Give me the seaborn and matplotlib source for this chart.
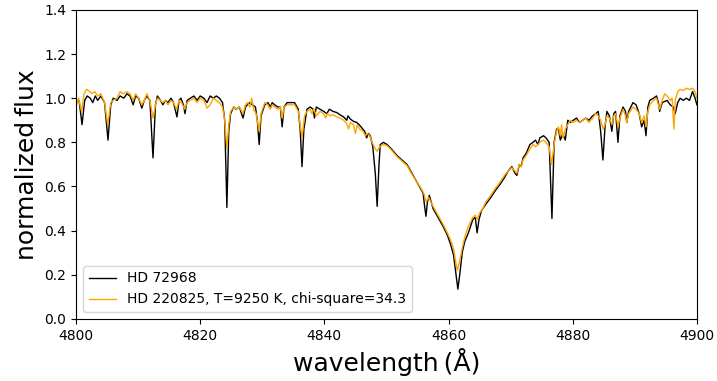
import matplotlib
matplotlib.use("Agg")
import matplotlib.pyplot as plt
import seaborn as sns
import pandas as pd

wl_obs = [4800.0, 4800.5, 4800.97, 4801.4, 4801.8, 4802.3, 4802.7, 4803.1, 4803.5, 4804.0,
          4804.6, 4805.15, 4805.6, 4806.0, 4806.6, 4807.1, 4807.7, 4808.2, 4808.7, 4809.2,
          4809.6, 4810.1, 4810.6, 4811.0, 4811.4, 4811.9, 4812.4, 4812.8, 4813.1, 4813.6,
          4814.0, 4814.4, 4814.8, 4815.3, 4815.7, 4816.26, 4816.6, 4816.9, 4817.3, 4817.55,
          4817.9, 4818.4, 4819.0, 4819.5, 4820.0, 4820.6, 4821.1, 4821.6, 4822.1, 4822.6,
          4823.1, 4823.6, 4823.95, 4824.3, 4824.6, 4824.9, 4825.4, 4825.8, 4826.3, 4826.9,
          4827.3, 4827.6, 4828.0, 4828.4, 4828.9, 4829.2, 4829.5, 4829.8, 4830.4, 4830.9,
          4831.3, 4831.6, 4832.0, 4832.5, 4832.9, 4833.2, 4833.5, 4834.0, 4834.6, 4835.2,
          4835.8, 4836.1, 4836.4, 4836.7, 4837.2, 4837.7, 4838.2, 4838.4, 4838.7, 4839.3,
          4839.9, 4840.4, 4840.8, 4841.4, 4842.0, 4842.5, 4843.1, 4843.6, 4843.8, 4844.2,
          4844.7, 4845.2, 4845.6, 4846.2, 4846.5, 4846.8, 4847.1, 4847.4, 4847.8, 4848.2,
          4848.5, 4848.8, 4849.0, 4849.5, 4850.1, 4850.8, 4851.7, 4852.5, 4853.3, 4854.1,
          4854.9, 4855.5, 4855.9, 4856.1, 4856.36, 4856.6, 4856.9, 4857.5, 4858.3, 4859.1,
          4859.8, 4860.3, 4860.8, 4861.2, 4861.5, 4861.8, 4862.2, 4862.6, 4863.2, 4863.9,
          4864.3, 4864.6, 4864.9, 4865.3, 4866.0, 4866.8, 4867.5, 4868.3, 4869.0, 4869.6,
          4870.2, 4870.7, 4871.0, 4871.4, 4871.7, 4872.0, 4872.5, 4873.1, 4873.6, 4874.0,
          4874.4, 4874.7, 4875.3, 4875.7, 4876.2, 4876.65, 4877.0, 4877.4, 4877.7, 4878.0,
          4878.4, 4878.8, 4879.2, 4879.6, 4880.1, 4880.6, 4881.1, 4881.6, 4882.1, 4882.6,
          4883.2, 4883.7, 4884.1, 4884.5, 4884.86, 4885.2, 4885.5, 4885.9, 4886.3, 4886.6,
          4886.9, 4887.28, 4887.6, 4888.1, 4888.5, 4888.7, 4889.0, 4889.7, 4890.2, 4890.7,
          4891.1, 4891.5, 4891.8, 4892.1, 4892.4, 4893.0, 4893.5, 4893.8, 4894.0, 4894.4,
          4895.2, 4895.7, 4896.2, 4896.5, 4896.9, 4897.3, 4897.8, 4898.3, 4898.8, 4899.3,
          4899.7, 4900.0]
flux_obs = [0.98, 0.99, 0.88, 0.99, 1.01, 1.00, 0.98, 1.01, 0.99, 1.01,
            0.98, 0.81, 0.97, 1.00, 0.99, 1.01, 1.00, 1.02, 1.01, 0.97,
            1.01, 1.00, 0.955, 0.99, 1.01, 0.99, 0.73, 0.97, 1.01, 0.99,
            0.97, 0.99, 0.98, 1.00, 0.98, 0.915, 0.99, 1.00, 0.97, 0.93,
            0.99, 1.00, 1.01, 0.99, 1.01, 1.00, 0.98, 1.01, 1.00, 1.01,
            1.00, 0.98, 0.90, 0.505, 0.85, 0.93, 0.96, 0.95, 0.96, 0.91,
            0.96, 0.97, 0.98, 0.97, 0.96, 0.90, 0.79, 0.92, 0.97, 0.98,
            0.96, 0.98, 0.97, 0.96, 0.96, 0.87, 0.96, 0.98, 0.98, 0.98,
            0.95, 0.86, 0.69, 0.86, 0.95, 0.96, 0.95, 0.91, 0.96, 0.95,
            0.94, 0.93, 0.95, 0.94, 0.935, 0.925, 0.915, 0.90, 0.92, 0.905,
            0.895, 0.89, 0.88, 0.86, 0.85, 0.82, 0.84, 0.83, 0.78, 0.66,
            0.51, 0.70, 0.79, 0.80, 0.79, 0.77, 0.74, 0.72, 0.70, 0.66,
            0.62, 0.59, 0.57, 0.52, 0.465, 0.53, 0.56, 0.50, 0.46, 0.42,
            0.38, 0.34, 0.29, 0.20, 0.135, 0.20, 0.30, 0.35, 0.39, 0.45,
            0.46, 0.39, 0.45, 0.49, 0.52, 0.55, 0.58, 0.61, 0.64, 0.67,
            0.69, 0.66, 0.65, 0.70, 0.69, 0.73, 0.75, 0.79, 0.80, 0.81,
            0.79, 0.82, 0.83, 0.82, 0.80, 0.455, 0.80, 0.86, 0.86, 0.81,
            0.84, 0.81, 0.90, 0.89, 0.90, 0.91, 0.89, 0.90, 0.91, 0.90,
            0.92, 0.93, 0.94, 0.85, 0.72, 0.87, 0.94, 0.92, 0.85, 0.93,
            0.94, 0.80, 0.92, 0.96, 0.94, 0.89, 0.94, 0.98, 0.97, 0.93,
            0.87, 0.90, 0.83, 0.96, 0.99, 1.00, 1.01, 0.98, 0.94, 0.98,
            0.99, 0.97, 0.96, 0.93, 0.98, 1.00, 0.99, 1.00, 0.99, 1.03,
            1.00, 0.97]

wl_mod = [4800.0, 4800.4, 4800.9, 4801.3, 4801.7, 4802.2, 4802.6, 4803.0, 4803.5, 4804.0,
          4804.6, 4805.1, 4805.6, 4806.0, 4806.6, 4807.1, 4807.6, 4808.2, 4808.7, 4809.2,
          4809.6, 4810.1, 4810.6, 4811.0, 4811.4, 4811.9, 4812.4, 4812.8, 4813.1, 4813.6,
          4814.0, 4814.4, 4814.8, 4815.3, 4815.7, 4816.2, 4816.6, 4817.0, 4817.5, 4817.9,
          4818.4, 4819.0, 4819.5, 4820.0, 4820.6, 4821.1, 4821.6, 4822.1, 4822.6, 4823.1,
          4823.6, 4823.95, 4824.3, 4824.6, 4824.9, 4825.4, 4825.8, 4826.3, 4826.9, 4827.3,
          4827.6, 4828.0, 4828.3, 4828.6, 4829.0, 4829.5, 4829.8, 4830.4, 4830.9, 4831.3,
          4831.6, 4832.0, 4832.5, 4832.9, 4833.2, 4833.5, 4834.0, 4834.6, 4835.2, 4835.8,
          4836.4, 4836.8, 4837.2, 4837.7, 4838.0, 4838.3, 4838.7, 4839.3, 4839.9, 4840.2,
          4840.5, 4840.9, 4841.4, 4842.0, 4842.5, 4843.1, 4843.6, 4843.9, 4844.2, 4844.7,
          4845.0, 4845.3, 4845.7, 4846.2, 4846.6, 4846.9, 4847.3, 4847.7, 4848.2, 4848.5,
          4848.9, 4849.5, 4850.1, 4850.8, 4851.7, 4852.5, 4853.3, 4854.1, 4854.9, 4855.5,
          4856.0, 4856.4, 4856.8, 4857.5, 4858.3, 4859.1, 4859.8, 4860.3, 4860.8, 4861.2,
          4861.4, 4861.7, 4862.2, 4862.6, 4863.2, 4863.9, 4864.3, 4864.6, 4865.0, 4865.5,
          4866.0, 4866.8, 4867.5, 4868.3, 4869.0, 4869.6, 4870.2, 4870.7, 4871.0, 4871.4,
          4871.7, 4872.0, 4872.5, 4873.1, 4873.6, 4874.0, 4874.4, 4874.7, 4875.3, 4875.7,
          4876.2, 4876.6, 4877.0, 4877.4, 4877.7, 4878.0, 4878.2, 4878.4, 4878.8, 4879.2,
          4879.6, 4880.1, 4880.6, 4881.1, 4881.6, 4882.1, 4882.6, 4883.2, 4883.7, 4884.1,
          4884.5, 4884.9, 4885.2, 4885.5, 4885.9, 4886.3, 4886.6, 4886.9, 4887.3, 4887.6,
          4888.1, 4888.5, 4888.7, 4889.0, 4889.7, 4890.2, 4890.7, 4891.1, 4891.5, 4891.8,
          4892.1, 4892.4, 4893.0, 4893.5, 4893.8, 4894.0, 4894.4, 4894.8, 4895.2, 4895.7,
          4896.0, 4896.3, 4896.5, 4896.9, 4897.3, 4897.8, 4898.3, 4898.8, 4899.3, 4899.7,
          4900.0]
flux_mod = [0.96, 1.00, 0.94, 1.02, 1.04, 1.03, 1.02, 1.03, 1.01, 1.02,
            0.98, 0.88, 0.98, 0.99, 1.00, 1.03, 1.02, 1.03, 1.02, 0.99,
            1.02, 1.00, 0.97, 0.99, 1.02, 0.99, 0.91, 0.97, 1.00, 0.99,
            0.98, 0.99, 0.97, 0.99, 0.98, 0.95, 0.99, 0.98, 0.95, 0.98,
            0.99, 1.00, 0.98, 1.00, 0.99, 0.955, 0.97, 1.00, 0.99, 0.98,
            0.96, 0.90, 0.77, 0.88, 0.94, 0.96, 0.95, 0.96, 0.93, 0.97,
            0.98, 0.96, 1.00, 0.95, 0.93, 0.85, 0.93, 0.98, 0.97, 0.95,
            0.97, 0.96, 0.95, 0.96, 0.91, 0.96, 0.97, 0.97, 0.97, 0.94,
            0.82, 0.92, 0.94, 0.95, 0.93, 0.95, 0.92, 0.94, 0.93, 0.91,
            0.93, 0.92, 0.925, 0.915, 0.91, 0.90, 0.885, 0.86, 0.89, 0.88,
            0.84, 0.88, 0.86, 0.85, 0.83, 0.84, 0.83, 0.80, 0.77, 0.76,
            0.78, 0.79, 0.785, 0.765, 0.735, 0.715, 0.695, 0.655, 0.62, 0.595,
            0.57, 0.53, 0.55, 0.51, 0.47, 0.43, 0.39, 0.36, 0.32, 0.25,
            0.22, 0.25, 0.32, 0.37, 0.42, 0.46, 0.47, 0.45, 0.48, 0.50,
            0.53, 0.56, 0.59, 0.62, 0.65, 0.67, 0.685, 0.67, 0.66, 0.70,
            0.69, 0.72, 0.74, 0.77, 0.79, 0.78, 0.79, 0.80, 0.81, 0.80,
            0.78, 0.70, 0.79, 0.85, 0.87, 0.83, 0.88, 0.82, 0.86, 0.88,
            0.90, 0.89, 0.90, 0.89, 0.90, 0.91, 0.89, 0.91, 0.93, 0.92,
            0.90, 0.86, 0.88, 0.92, 0.91, 0.88, 0.92, 0.93, 0.87, 0.91,
            0.95, 0.92, 0.89, 0.93, 0.96, 0.95, 0.93, 0.89, 0.92, 0.87,
            0.94, 0.97, 0.99, 1.00, 0.97, 0.95, 0.99, 1.02, 1.01, 0.99,
            1.00, 0.86, 0.99, 1.03, 1.04, 1.035, 1.045, 1.04, 1.045, 1.03,
            1.00]

label_obs = "HD 72968"
label_mod = "HD 220825, T=9250 K, chi-square=34.3"

df_obs = pd.DataFrame({"wl": wl_obs, "flux": flux_obs})
df_mod = pd.DataFrame({"wl": wl_mod, "flux": flux_mod})

fig = plt.figure(figsize=(7.17, 3.81), dpi=100)
ax = fig.add_axes([0.106, 0.163, 0.866, 0.811])
sns.lineplot(data=df_obs, x="wl", y="flux", ax=ax, color="black", lw=1.0,
             sort=False, estimator=None, label=label_obs)
sns.lineplot(data=df_mod, x="wl", y="flux", ax=ax, color="orange", lw=1.0,
             sort=False, estimator=None, label=label_mod)
ax.set_xlim(4800, 4900)
ax.set_ylim(0.0, 1.4)
ax.set_xticks([4800, 4820, 4840, 4860, 4880, 4900])
ax.set_yticks([0.0, 0.2, 0.4, 0.6, 0.8, 1.0, 1.2, 1.4])
ax.tick_params(labelsize=10)
ax.set_xlabel("wavelength\u2009(Å)", fontsize=18)
ax.set_ylabel("normalized\u2009flux", fontsize=18)
ax.legend(loc="lower left", fontsize=10)
fig.savefig("out.png", dpi=100)
